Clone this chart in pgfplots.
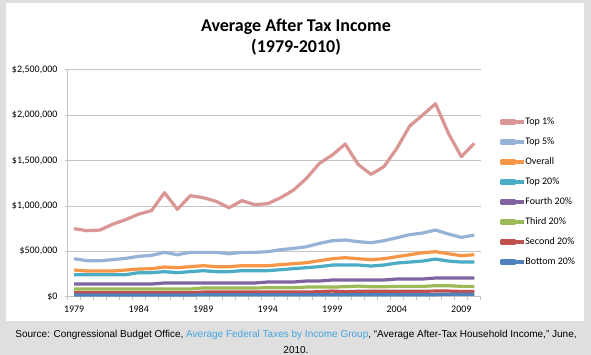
\documentclass[border=0pt]{standalone}
\usepackage{pgfplots}
\pgfplotsset{compat=1.18}
\usepackage{fontspec}
\setmainfont{Carlito}
\newfontfamily\arialfont{Liberation Sans}
\definecolor{bg}{HTML}{DFDFDF}
\definecolor{gridc}{HTML}{C4C4C4}
\definecolor{ctop1}{HTML}{D99694}
\definecolor{ctop5}{HTML}{95B3D7}
\definecolor{coverall}{HTML}{F79646}
\definecolor{ctop20}{HTML}{4BACC6}
\definecolor{cfourth}{HTML}{8064A2}
\definecolor{cthird}{HTML}{9BBB59}
\definecolor{csecond}{HTML}{C0504D}
\definecolor{cbottom}{HTML}{4F81BD}
\definecolor{linkc}{HTML}{45A5DD}
\begin{document}
\begin{tikzpicture}[x=1pt,y=1pt]
\fill[bg] (0,0) rectangle (591,355);
\fill[white] (6,34) rectangle (584,352);
\node[anchor=base, inner sep=0pt, font=\bfseries\fontsize{18}{20}\selectfont] at (296,323.5) {Average After Tax Income};
\node[anchor=base, inner sep=0pt, font=\bfseries\fontsize{18}{20}\selectfont] at (296,302.5) {(1979-2010)};
\begin{axis}[
  at={(67.7pt,58.3pt)}, anchor=south west,
  scale only axis, width=413pt, height=226.7pt,
  xmin=1978.5, xmax=2010.5, ymin=0, ymax=2500000,
  axis lines=left, axis line style={-, gridc, line width=1pt},
  ymajorgrids, major grid style={gridc, line width=1pt},
  tick style={gridc, line width=1pt}, tick align=outside, major tick length=3pt,
  ytick={0,500000,1000000,1500000,2000000,2500000},
  yticklabels={\$0,{\$500,000},{\$1,000,000},{\$1,500,000},{\$2,000,000},{\$2,500,000}},
  xtick={1978.5,1979.5,...,2010.5}, xticklabels={},
  extra x ticks={1979,1984,1989,1994,1999,2004,2009},
  extra x tick labels={1979,1984,1989,1994,1999,2004,2009},
  extra x tick style={major tick length=0pt, xticklabel style={inner sep=0pt, anchor=north, yshift=-9pt}},
  /pgf/number format/assume math mode=true,
  tick label style={font=\fontsize{10}{12}\selectfont, text=black},
  yticklabel style={inner sep=0pt, xshift=-7pt},
  scaled y ticks=false,
  legend style={at={(1.0394,0.80)}, anchor=north west, draw=none, fill=none,
    font=\fontsize{10}{12}\selectfont, row sep=11pt, column sep=0pt,
    nodes={inner sep=0pt, text height=7pt, text depth=2pt}},
  legend cell align=left,
  legend image code/.code={\draw[#1, line width=3.2pt] (0pt,0pt) -- (22pt,0pt); \path[use as bounding box] (0pt,-1pt) rectangle (13pt,1pt);},
  every axis plot/.append style={line width=3.2pt, mark=none, line join=round},
  clip=false,
]
\addplot[ctop1] coordinates {(1979,750000)(1980,728000)(1981,735000)(1982,800000)(1983,850000)(1984,910000)(1985,950000)(1986,1147000)(1987,963000)(1988,1114000)(1989,1092000)(1990,1051000)(1991,981000)(1992,1059000)(1993,1015000)(1994,1026000)(1995,1092000)(1996,1176000)(1997,1305000)(1998,1470000)(1999,1562000)(2000,1684000)(2001,1459000)(2002,1349000)(2003,1434000)(2004,1636000)(2005,1882000)(2006,2003000)(2007,2128000)(2008,1801000)(2009,1544000)(2010,1691000)};
\addlegendentry{Top 1\%}
\addplot[ctop5] coordinates {(1979,419000)(1980,397000)(1981,397000)(1982,408000)(1983,423000)(1984,445000)(1985,456000)(1986,489000)(1987,463000)(1988,489000)(1989,489000)(1990,489000)(1991,474000)(1992,489000)(1993,489000)(1994,496000)(1995,518000)(1996,533000)(1997,551000)(1998,588000)(1999,617000)(2000,625000)(2001,607000)(2002,595000)(2003,617000)(2004,650000)(2005,684000)(2006,702000)(2007,735000)(2008,691000)(2009,654000)(2010,680000)};
\addlegendentry{Top 5\%}
\addplot[coverall] coordinates {(1979,294000)(1980,283000)(1981,283000)(1982,283000)(1983,294000)(1984,305000)(1985,309000)(1986,327000)(1987,320000)(1988,331000)(1989,342000)(1990,331000)(1991,331000)(1992,342000)(1993,342000)(1994,342000)(1995,353000)(1996,364000)(1997,375000)(1998,397000)(1999,419000)(2000,430000)(2001,419000)(2002,408000)(2003,419000)(2004,441000)(2005,463000)(2006,485000)(2007,496000)(2008,474000)(2009,452000)(2010,463000)};
\addlegendentry{Overall}
\addplot[ctop20] coordinates {(1979,243000)(1980,243000)(1981,243000)(1982,243000)(1983,243000)(1984,265000)(1985,265000)(1986,276000)(1987,265000)(1988,276000)(1989,287000)(1990,276000)(1991,276000)(1992,287000)(1993,287000)(1994,287000)(1995,298000)(1996,309000)(1997,320000)(1998,331000)(1999,349000)(2000,349000)(2001,349000)(2002,338000)(2003,349000)(2004,371000)(2005,382000)(2006,393000)(2007,415000)(2008,393000)(2009,382000)(2010,382000)};
\addlegendentry{Top 20\%}
\addplot[cfourth] coordinates {(1979,140000)(1980,140000)(1981,140000)(1982,140000)(1983,140000)(1984,140000)(1985,140000)(1986,151000)(1987,151000)(1988,151000)(1989,151000)(1990,151000)(1991,151000)(1992,151000)(1993,151000)(1994,162000)(1995,162000)(1996,162000)(1997,173000)(1998,173000)(1999,184000)(2000,184000)(2001,184000)(2002,184000)(2003,184000)(2004,195000)(2005,195000)(2006,195000)(2007,206000)(2008,206000)(2009,206000)(2010,206000)};
\addlegendentry{Fourth 20\%}
\addplot[cthird] coordinates {(1979,85000)(1980,85000)(1981,85000)(1982,85000)(1983,85000)(1984,85000)(1985,85000)(1986,85000)(1987,85000)(1988,85000)(1989,96000)(1990,96000)(1991,96000)(1992,96000)(1993,96000)(1994,99000)(1995,99000)(1996,99000)(1997,106000)(1998,106000)(1999,106000)(2000,110000)(2001,117000)(2002,110000)(2003,110000)(2004,114000)(2005,114000)(2006,114000)(2007,121000)(2008,121000)(2009,114000)(2010,114000)};
\addlegendentry{Third 20\%}
\addplot[csecond] coordinates {(1979,44000)(1980,44000)(1981,44000)(1982,44000)(1983,44000)(1984,44000)(1985,44000)(1986,44000)(1987,44000)(1988,44000)(1989,51000)(1990,51000)(1991,51000)(1992,51000)(1993,51000)(1994,51000)(1995,51000)(1996,51000)(1997,51000)(1998,55000)(1999,62000)(2000,55000)(2001,60000)(2002,60000)(2003,60000)(2004,60000)(2005,60000)(2006,60000)(2007,62000)(2008,62000)(2009,58000)(2010,58000)};
\addlegendentry{Second 20\%}
\addplot[cbottom] coordinates {(1979,18000)(1980,18000)(1981,18000)(1982,18000)(1983,18000)(1984,18000)(1985,18000)(1986,18000)(1987,18000)(1988,18000)(1989,22000)(1990,22000)(1991,22000)(1992,22000)(1993,22000)(1994,22000)(1995,22000)(1996,22000)(1997,22000)(1998,22000)(1999,22000)(2000,22000)(2001,22000)(2002,22000)(2003,22000)(2004,22000)(2005,22000)(2006,22000)(2007,22000)(2008,28000)(2009,28000)(2010,28000)};
\addlegendentry{Bottom 20\%}
\end{axis}
\node[anchor=center, inner sep=0pt, font=\arialfont\fontsize{10}{12}\selectfont] at (296,20) {Source: Congressional Budget Office, \textcolor{linkc}{Average Federal Taxes by Income Group}, “Average After-Tax Household Income,” June,};
\node[anchor=center, inner sep=0pt, font=\arialfont\fontsize{10}{12}\selectfont] at (296,5) {2010.};
\end{tikzpicture}
\end{document}
